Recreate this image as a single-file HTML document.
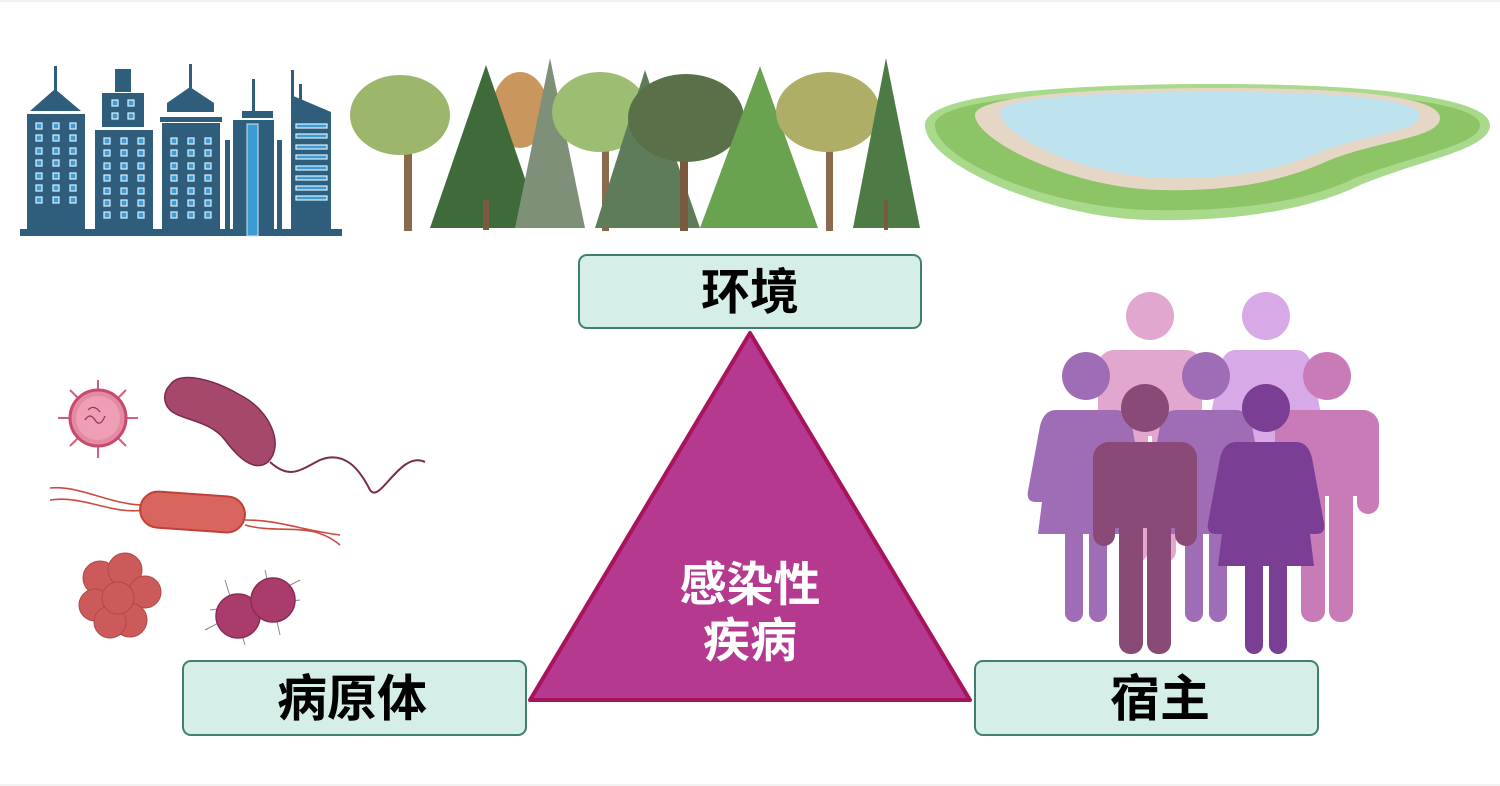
<!DOCTYPE html>
<html><head><meta charset="utf-8"><style>
html,body{margin:0;padding:0;background:#fff;}
svg{display:block;}
text{font-family:"Liberation Sans","Noto Sans CJK SC",sans-serif;font-weight:bold;}
</style></head><body>
<svg width="1500" height="786" viewBox="0 0 1500 786" xmlns="http://www.w3.org/2000/svg">
<rect width="1500" height="786" fill="#fff"/>
<line x1="0" y1="1" x2="1500" y2="1" stroke="#e6e6e6"/>
<line x1="0" y1="785" x2="1500" y2="785" stroke="#e6e6e6"/>
<!-- buildings -->
<g fill="#2f5d7c">
<rect x="20" y="229" width="322" height="7"/>
<rect x="54" y="66" width="3" height="26"/>
<polygon points="30,111 55,89 81,111"/>
<rect x="27" y="114" width="58" height="115"/>
<rect x="115" y="69" width="16" height="23"/>
<rect x="102" y="93" width="42" height="34"/>
<rect x="95" y="130" width="58" height="99"/>
<rect x="189" y="64" width="3" height="24"/>
<polygon points="167,112 167,103 190,87 214,103 214,112"/>
<rect x="160" y="117" width="62" height="5"/>
<rect x="162" y="123" width="58" height="106"/>
<rect x="225" y="140" width="5" height="96"/>
<rect x="252" y="79" width="3" height="33"/>
<rect x="242" y="111" width="31" height="7"/>
<rect x="233" y="120" width="41" height="116"/>
<rect x="277" y="140" width="5" height="96"/>
<rect x="291" y="70" width="3" height="30"/>
<rect x="299" y="84" width="3" height="18"/>
<polygon points="291,95 331,112 331,230 291,230"/>
</g>
<g fill="#3a9bd5" stroke="#cfe6f5" stroke-width="1">
<rect x="247" y="124" width="11" height="112"/>
</g>
<g fill="#3a9bd5" stroke="#dff0fb" stroke-width="1.2">
<g id="w1"><rect x="36" y="123" width="6" height="6"/><rect x="53" y="123" width="6" height="6"/><rect x="70" y="123" width="6" height="6"/></g>
<use href="#w1" y="12"/><use href="#w1" y="25"/><use href="#w1" y="37"/><use href="#w1" y="50"/><use href="#w1" y="62"/><use href="#w1" y="74"/>
<rect x="112" y="100" width="6" height="6"/><rect x="128" y="100" width="6" height="6"/><rect x="112" y="113" width="6" height="6"/><rect x="128" y="113" width="6" height="6"/>
<g id="w2"><rect x="104" y="138" width="6" height="6"/><rect x="121" y="138" width="6" height="6"/><rect x="138" y="138" width="6" height="6"/></g>
<use href="#w2" y="12"/><use href="#w2" y="25"/><use href="#w2" y="37"/><use href="#w2" y="50"/><use href="#w2" y="62"/><use href="#w2" y="74"/>
<g id="w3"><rect x="171" y="138" width="6" height="6"/><rect x="188" y="138" width="6" height="6"/><rect x="205" y="138" width="6" height="6"/></g>
<use href="#w3" y="12"/><use href="#w3" y="25"/><use href="#w3" y="37"/><use href="#w3" y="50"/><use href="#w3" y="62"/><use href="#w3" y="74"/>
<g id="w4"><rect x="296" y="124" width="31" height="4"/></g>
<use href="#w4" y="10"/><use href="#w4" y="21"/><use href="#w4" y="31"/><use href="#w4" y="42"/><use href="#w4" y="52"/><use href="#w4" y="62"/><use href="#w4" y="72"/>
</g>
<!-- trees -->
<g>
<rect x="404" y="130" width="8" height="101" fill="#8a6a4c"/>
<ellipse cx="400" cy="115" rx="50" ry="40" fill="#9cb66c"/>
<ellipse cx="520" cy="110" rx="28" ry="38" fill="#c9965e"/>
<polygon points="486,65 430,228 542,228" fill="#3f6b3a"/>
<rect x="483" y="200" width="6" height="30" fill="#7a5a3e"/>
<polygon points="550,58 515,228 585,228" fill="#7e9077"/>
<rect x="602" y="130" width="7" height="101" fill="#8a6a4c"/>
<ellipse cx="600" cy="112" rx="48" ry="40" fill="#9cbd72"/>
<polygon points="645,70 595,228 700,228" fill="#5e7c5a"/>
<rect x="680" y="130" width="8" height="101" fill="#7a5a3e"/>
<ellipse cx="686" cy="118" rx="58" ry="44" fill="#5a7048"/>
<polygon points="760,66 700,228 818,228" fill="#6aa350"/>
<rect x="826" y="130" width="7" height="101" fill="#8a6a4c"/>
<ellipse cx="828" cy="112" rx="52" ry="40" fill="#aeae66"/>
<polygon points="886,58 853,228 920,228" fill="#4d7a45"/>
<rect x="884" y="200" width="4" height="30" fill="#7a5a3e"/>
</g>
<!-- lake -->
<path d="M925,125 C925,95 1050,85 1200,84 C1350,83 1490,95 1490,125 C1490,150 1420,160 1360,185 C1320,205 1250,222 1150,220 C1050,218 925,165 925,125 Z" fill="#a9d98b"/>
<path d="M935,125 C935,100 1050,92 1200,91 C1350,90 1480,100 1480,125 C1480,145 1415,155 1355,178 C1315,198 1250,212 1150,210 C1050,208 935,160 935,125 Z" fill="#8cc466"/>
<path d="M975,115 C975,95 1100,88 1220,88 C1340,88 1440,95 1440,118 C1440,138 1380,140 1330,160 C1290,178 1240,192 1160,190 C1070,188 975,140 975,115 Z" fill="#e6d6c6"/>
<path d="M1000,112 C1000,96 1110,92 1220,92 C1330,92 1420,98 1420,116 C1420,132 1365,134 1320,152 C1285,168 1235,180 1165,178 C1080,176 1000,135 1000,112 Z" fill="#bfe3ee"/>
<!-- pathogens -->
<g>
<g stroke="#d1607f" stroke-width="2">
<line x1="98" y1="380" x2="98" y2="458"/><line x1="58" y1="418" x2="138" y2="418"/>
<line x1="70" y1="390" x2="126" y2="446"/><line x1="70" y1="446" x2="126" y2="390"/>
</g>
<circle cx="98" cy="418" r="28" fill="#e48aa2" stroke="#c8496e" stroke-width="3"/>
<circle cx="98" cy="418" r="22" fill="#ee9fb5"/>
<path d="M85,420 q5,-8 10,0 q5,8 10,-4 M88,410 q6,-6 12,2" stroke="#9a3050" fill="none" stroke-width="1.2"/>
<path d="M170,385 C180,370 215,380 240,395 C270,410 285,445 268,462 C255,472 240,460 225,440 C210,420 180,420 170,410 C163,403 163,392 170,385 Z" fill="#a5486c" stroke="#7a2a4e" stroke-width="1.5"/>
<path d="M270,462 C290,480 300,470 320,460 C345,450 360,470 370,490 C380,505 400,450 425,462" fill="none" stroke="#7a2a4e" stroke-width="2"/>
<path d="M50,488 C80,485 110,505 145,505 M50,500 C85,495 110,515 145,510 M245,520 C280,520 300,530 340,535 M245,525 C280,535 310,520 340,545" fill="none" stroke="#cc4a40" stroke-width="1.6"/>
<rect x="140" y="494" width="105" height="36" rx="18" transform="rotate(4 192 512)" fill="#d9665e" stroke="#c04038" stroke-width="2"/>
<g fill="#cc5a5a" stroke="#b04848">
<circle cx="100" cy="578" r="17"/><circle cx="125" cy="570" r="17"/><circle cx="145" cy="592" r="16"/>
<circle cx="95" cy="605" r="16"/><circle cx="130" cy="620" r="17"/><circle cx="110" cy="622" r="16"/><circle cx="118" cy="598" r="16"/>
</g>
<g stroke="#888" stroke-width="1">
<line x1="210" y1="610" x2="300" y2="600"/><line x1="225" y1="580" x2="245" y2="645"/><line x1="265" y1="570" x2="280" y2="635"/><line x1="205" y1="630" x2="300" y2="580"/>
</g>
<circle cx="238" cy="616" r="22" fill="#a93c6a" stroke="#8c2c56" stroke-width="1.5"/>
<circle cx="273" cy="600" r="22" fill="#a93c6a" stroke="#8c2c56" stroke-width="1.5"/>
</g>
<!-- people -->
<defs>
<g id="man">
<circle cx="0" cy="0" r="24"/>
<rect x="-52" y="34" width="104" height="66" rx="16"/>
<rect x="-52" y="60" width="22" height="78" rx="11"/>
<rect x="30" y="60" width="22" height="78" rx="11"/>
<rect x="-34" y="60" width="68" height="60"/>
<rect x="-26" y="110" width="24" height="136" rx="11"/>
<rect x="2" y="110" width="24" height="136" rx="11"/>
</g>
<g id="woman">
<circle cx="0" cy="0" r="24"/>
<path d="M-30,34 L30,34 Q42,34 46,50 L58,115 Q60,126 50,126 L44,126 L48,158 L-48,158 L-44,126 L-50,126 Q-60,126 -58,115 L-46,50 Q-42,34 -30,34 Z"/>
<rect x="-21" y="150" width="18" height="96" rx="9"/>
<rect x="3" y="150" width="18" height="96" rx="9"/>
</g>
</defs>
<use href="#man" x="1150" y="316" fill="#e2a7cf"/>
<use href="#woman" x="1266" y="316" fill="#d8a9e7"/>
<use href="#woman" x="1086" y="376" fill="#9f6db6"/>
<use href="#woman" x="1206" y="376" fill="#9f6db6"/>
<use href="#man" x="1327" y="376" fill="#c97bb8"/>
<use href="#man" x="1145" y="408" fill="#8a4a78"/>
<use href="#woman" x="1266" y="408" fill="#7a3e94"/>
<!-- triangle -->
<polygon points="750,333 530,700 970,700" fill="#b5398f" stroke="#a8145c" stroke-width="4" stroke-linejoin="round"/>
<text x="750" y="601" font-size="47" fill="#fff" text-anchor="middle">感染性</text>
<text x="750" y="657" font-size="47" fill="#fff" text-anchor="middle">疾病</text>
<!-- boxes -->
<rect x="579" y="255" width="342" height="73" rx="8" fill="#d6eee8" stroke="#3f7f70" stroke-width="2"/>
<text x="750" y="309" font-size="49" fill="#000" text-anchor="middle">环境</text>
<rect x="183" y="661" width="343" height="74" rx="8" fill="#d6eee8" stroke="#3f7f70" stroke-width="2"/>
<text x="352" y="716" font-size="50" fill="#000" text-anchor="middle">病原体</text>
<rect x="975" y="661" width="343" height="74" rx="8" fill="#d6eee8" stroke="#3f7f70" stroke-width="2"/>
<text x="1160" y="716" font-size="50" fill="#000" text-anchor="middle">宿主</text>
</svg>
</body></html>
